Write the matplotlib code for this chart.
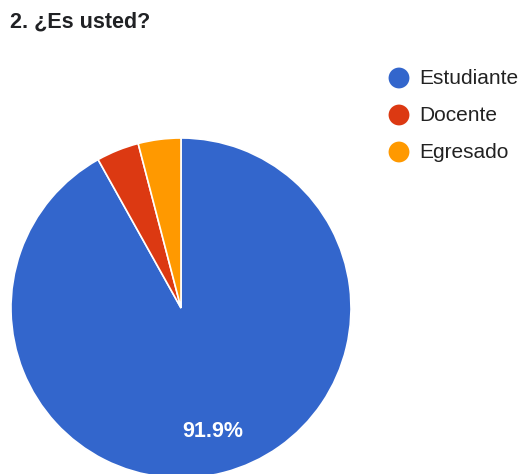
import matplotlib
matplotlib.use("Agg")
import matplotlib.pyplot as plt

categories = ["Estudiante", "Docente", "Egresado"]
counts = [68, 3, 3]
colors = ["#3366cc", "#dc3912", "#ff9900"]
title = "2. ¿Es usted?"

W, H = 524, 474
fig = plt.figure(figsize=(W / 100, H / 100), dpi=100)
plt.rcParams['font.family'] = ['Liberation Sans', 'DejaVu Sans']

# pie axes: center (181,308) px, radius 170 px
cx, cy, r = 181, 308, 170
ax = fig.add_axes([(cx - r) / W, (H - cy - r) / H, 2 * r / W, 2 * r / H])
total = sum(counts)

def fmt(p):
    return f"{p:.1f}%" if p > 10 else ""

wedges, texts, autotexts = ax.pie(
    counts, colors=colors, startangle=90, counterclock=False,
    autopct=fmt, pctdistance=0.75,
    wedgeprops=dict(edgecolor="white", linewidth=1.2),
    textprops=dict(color="white", fontsize=15.5, fontweight="bold"),
)
ax.set_xlim(-1, 1)
ax.set_ylim(-1, 1)
ax.set_aspect("auto")
ax.axis("off")

# overlay axes in pixel coordinates for title and legend
ov = fig.add_axes([0, 0, 1, 1], zorder=5)
ov.set_xlim(0, W)
ov.set_ylim(H, 0)
ov.axis("off")
ov.patch.set_alpha(0)

ov.text(10, 22, title, fontsize=15.5, fontweight="bold", color="#202124",
        va="center", ha="left")

for i, (cat, col) in enumerate(zip(categories, colors)):
    y = 78 + i * 37
    ov.scatter([399], [y], s=225, color=col, edgecolors="none")
    ov.text(419, y, cat, fontsize=15, color="#222222", va="center", ha="left")

fig.savefig("out.png", dpi=100, facecolor="white")
